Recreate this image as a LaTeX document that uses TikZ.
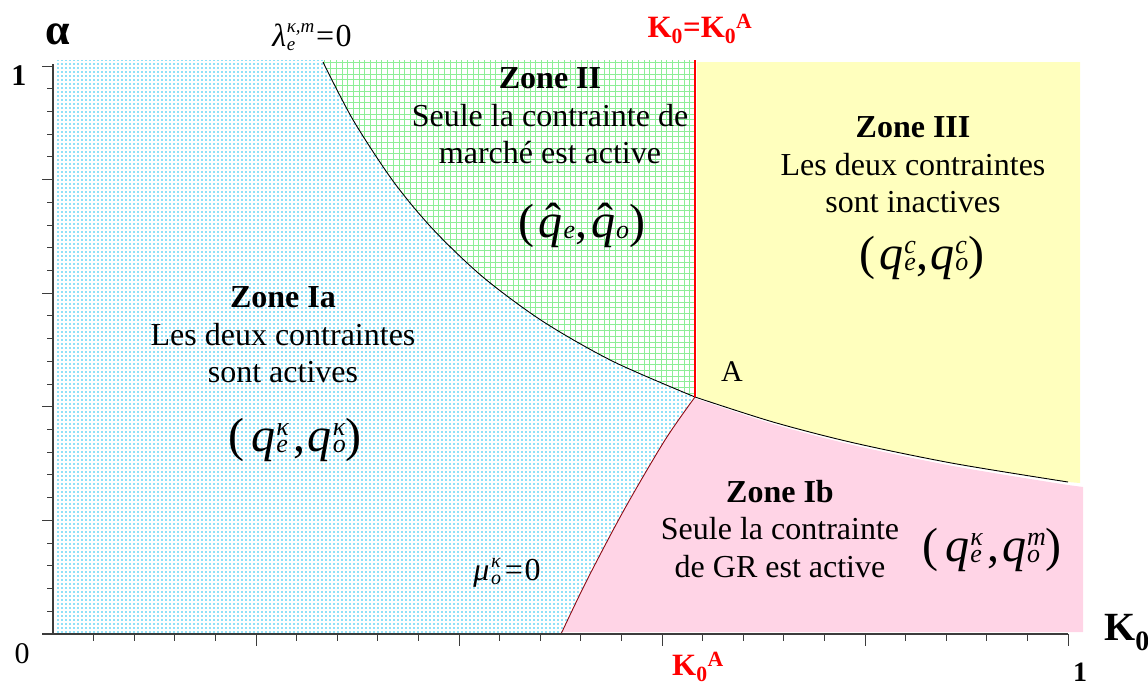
\documentclass[tikz,border=0pt]{standalone}
\usepackage{fontspec}
\setmainfont{Liberation Serif}
\usetikzlibrary{patterns}
\definecolor{dotcyan}{RGB}{30,195,240}
\definecolor{gridgreen}{RGB}{140,238,150}
\definecolor{zyellow}{RGB}{255,255,190}
\definecolor{zpink}{RGB}{255,212,230}
\definecolor{mured}{RGB}{140,10,20}
\definecolor{axisgray}{RGB}{60,60,60}
\pgfdeclarepatterninherentlycolored{cyandots}{\pgfqpoint{-1pt}{-1pt}}{\pgfqpoint{5pt}{5pt}}{\pgfqpoint{4pt}{4pt}}{%
  \pgfsetfillcolor{dotcyan}\pgfpathcircle{\pgfqpoint{2pt}{2pt}}{0.8pt}\pgfusepath{fill}}
% #1 size, #2 sup raise, #3 sub raise, #4 sup, #5 sub
\newcommand\ssx[5]{\ooalign{\raisebox{#2}{\fontsize{#1}{#1}\selectfont\itshape #4}\cr\raisebox{#3}{\fontsize{#1}{#1}\selectfont\itshape #5}\cr}}
\newcommand\qq[2]{\textit{q}\kern0.02em\ssx{26}{0.33em}{-0.03em}{#1}{#2}}
\newcommand\qhatglyph{\ooalign{\textit{q}\cr\hidewidth\kern0.1em\raisebox{0.02em}{ˆ}\hidewidth\cr}}
\newcommand\qh[1]{\qhatglyph\kern0.02em\raisebox{-0.03em}{\fontsize{26}{26}\selectfont\itshape #1}}
\tikzset{
  ztext/.style={align=center, font=\fontsize{32}{37.5}\selectfont, inner sep=0pt},
  zformula/.style={font=\fontsize{48}{52}\selectfont, inner sep=0pt},
  axlab/.style={font=\fontsize{30}{34}\selectfont\bfseries, inner sep=0pt},
  redlab/.style={font=\fontsize{31}{34}\selectfont\bfseries, text=red, inner sep=0pt},
  curvelab/.style={font=\fontsize{32}{36}\selectfont, inner sep=0pt},
  boundary/.style={line width=0.9pt, black},
}
\begin{document}
\begin{tikzpicture}[x=1pt,y=-1pt]
\useasboundingbox (0,0) rectangle (1148,686);
\coordinate (A) at (695,397);
% Zone Ia (blue dots)
\path[pattern=cyandots]
  (55,60) -- (323,60) -- plot[smooth] coordinates {(323,62) (353,119.8) (393,181) (433,229.3) (483,277.1) (543,321.5) (613,361.4) (695,397)}
  -- plot[smooth] coordinates {(695,397) (665,440) (624,510) (587,580) (561,634)} -- (55,634) -- cycle;
% Zone II (green grid)
\begin{scope}
\clip (323,60) -- (695,60) -- (695,397) -- plot[smooth] coordinates {(695,397) (613,361.4) (543,321.5) (483,277.1) (433,229.3) (393,181) (353,119.8) (323,62)} -- cycle;
\draw[gridgreen, line width=1pt, step=5.7pt] (300,40) grid (720,420);
\end{scope}
% Zone III (yellow)
\fill[zyellow] (697,62) -- (1080,62) -- (1080,483) -- plot[smooth] coordinates {(1068,482) (953,463.3) (853,442.7) (773,422) (697,397)} -- cycle;
% Zone Ib (pink)
\fill[zpink] (697,399) -- plot[smooth] coordinates {(697,399) (773,424) (853,445) (953,466) (1068,485)} -- (1083,487) -- (1083,632) -- (561,632) -- plot[smooth] coordinates {(561,634) (587,580) (624,510) (665,440) (695,398)} -- cycle;
% boundaries
\draw[boundary] plot[smooth] coordinates {(323,62) (353,119.8) (393,181) (433,229.3) (483,277.1) (543,321.5) (613,361.4) (695,397)};
\draw[boundary] plot[smooth] coordinates {(695,397) (773,422) (853,442.7) (953,463.3) (1068,482)};
\draw[mured, line width=0.9pt] plot[smooth] coordinates {(695,397) (665,440) (624,510) (587,580) (561,634)};
\coordinate (Ktop) at (695,60);
\draw[red, line width=2pt] (Ktop) -- (A);
% axes
\coordinate (O) at (53,634);
\coordinate (Ytop) at (53,64);
\coordinate (Xend) at (1068,634);
\draw[axisgray, line width=1.3pt] (42,634) -- (Xend);
\draw[axisgray, line width=1.3pt] (O) -- (Ytop);
\foreach \i in {1,...,25} {
  \pgfmathsetmacro{\xx}{53+\i*40.6}
  \pgfmathsetmacro{\tl}{mod(\i,5)==0 ? 646 : 641}
  \draw[axisgray, line width=1pt] (\xx,634) -- (\xx,\tl);
}
\foreach \i in {1,...,25} {
  \pgfmathsetmacro{\yy}{634-\i*22.72}
  \pgfmathsetmacro{\tl}{mod(\i,5)==0 ? 42 : 47}
  \draw[axisgray, line width=1pt] (53,\yy) -- (\tl,\yy);
}
% axis labels
\node[font=\fontsize{44}{48}\selectfont\bfseries, inner sep=0pt] (alpha) at (58,34) {α};
\node[axlab] (one-y) at (19,76) {1};
\node[font=\fontsize{30}{34}\selectfont, inner sep=0pt] (zero) at (22,654) {0};
\node[font=\fontsize{28}{32}\selectfont\bfseries, inner sep=0pt] (one-x) at (1080,672) {1};
\node[font=\fontsize{40}{44}\selectfont\bfseries, inner sep=0pt, anchor=west] (Kaxis) at (1104,633) {K\textsubscript{0}};
\node[redlab] (KtopLab) at (700,29) {K\textsubscript{0}=K\textsubscript{0}\textsuperscript{A}};
\node[redlab] (KbotLab) at (698,667) {K\textsubscript{0}\textsuperscript{A}};
% curve labels
\node[curvelab] (lam) at (312,37) {\textit{λ}\kern0.02em\ssx{19}{0.42em}{-0.12em}{κ,m}{e}\kern0.05em=\kern0.05em0};
\node[curvelab] (mu) at (507,573) {\textit{μ}\kern0.05em\ssx{20}{0.42em}{-0.12em}{κ}{o}\kern0.12em=\kern0.05em0};
\node[font=\fontsize{30}{34}\selectfont, inner sep=0pt] (Alab) at (732,372) {A};
% zone texts
\node[ztext] (z2) at (550,116) {\textbf{Zone II}\\Seule la contrainte de\\marché est active};
\node[ztext] (z3) at (913,165) {\textbf{Zone III}\\Les deux contraintes\\sont inactives};
\node[ztext] (z1a) at (283,335) {\textbf{Zone Ia}\\Les deux contraintes\\sont actives};
\node[ztext] (z1b) at (780,529) {\textbf{Zone Ib}\\Seule la contrainte\\de GR est active};
% formulas
\node[zformula] (f2) at (582,226) {(\kern0.08em\qh{e},\kern0.08em\qh{o})};
\node[zformula] (f3) at (922,258) {(\kern0.08em\qq{c}{e},\kern0.05em\qq{c}{o})};
\node[zformula] (f1a) at (295,440) {(\kern0.15em\qq{κ}{e}\kern0.1em,\kern0.05em\qq{κ}{o})};
\node[zformula] (f1b) at (992,550) {(\kern0.15em\qq{κ}{e}\kern0.1em,\kern0.05em\qq{m}{o})};
\end{tikzpicture}
\end{document}
